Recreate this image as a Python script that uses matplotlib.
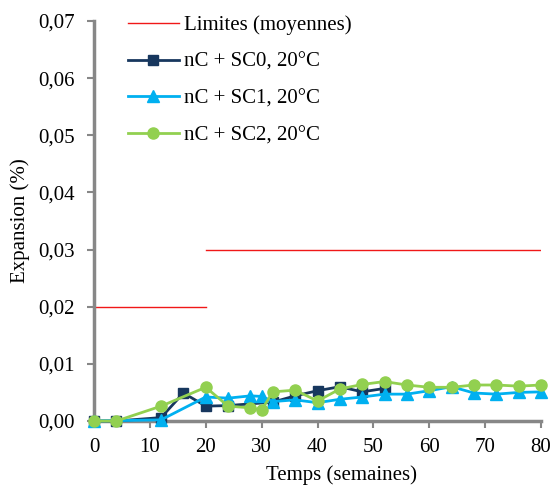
import matplotlib
matplotlib.use("Agg")
import matplotlib.pyplot as plt
from matplotlib.ticker import FuncFormatter

plt.rcParams['font.family'] = ['Liberation Serif', 'DejaVu Serif']

# Data
lim_x1 = [0, 20]
lim_y1 = [0.02, 0.02]
lim_x2 = [20, 80]
lim_y2 = [0.03, 0.03]

sc0_x = [0, 4, 12, 16, 20, 24, 32, 36, 40, 44, 48, 52]
sc0_y = [0.0, 0.0, 0.0006, 0.0049, 0.0026, 0.0027, 0.0033, 0.0044, 0.0053, 0.0060, 0.0051, 0.0057]

sc1_x = [0, 12, 20, 24, 28, 30, 32, 36, 40, 44, 48, 52, 56, 60, 64, 68, 72, 76, 80]
sc1_y = [0.0, 0.0002, 0.0042, 0.0040, 0.0044, 0.0043, 0.0034, 0.0037, 0.0032, 0.0038, 0.0042,
         0.0047, 0.0047, 0.0053, 0.0060, 0.0049, 0.0047, 0.0050, 0.0051]

sc2_x = [0, 4, 12, 20, 24, 28, 30, 32, 36, 40, 44, 48, 52, 56, 60, 64, 68, 72, 76, 80]
sc2_y = [0.0, 0.0, 0.0026, 0.0059, 0.0026, 0.0023, 0.0019, 0.0051, 0.0054, 0.0035, 0.0056,
         0.0064, 0.0069, 0.0063, 0.0059, 0.0059, 0.0063, 0.0063, 0.0061, 0.0063]

labels = ['Limites (moyennes)', 'nC + SC0, 20°C', 'nC + SC1, 20°C', 'nC + SC2, 20°C']
xticks = [0, 10, 20, 30, 40, 50, 60, 70, 80]
yticks = [0.0, 0.01, 0.02, 0.03, 0.04, 0.05, 0.06, 0.07]

FS = 15

fig = plt.figure(figsize=(5.54, 4.86), dpi=100)
ax = fig.add_axes([94/554, 1-421/486, (541-94)/554, (421-21)/486])

red = '#F01818'
navy = '#17375E'
blue = '#00B0F0'
green = '#92D050'

ax.plot(lim_x1, lim_y1, color=red, lw=1.0, label=labels[0])
ax.plot(lim_x2, lim_y2, color=red, lw=1.0)
ax.plot(sc0_x, sc0_y, color=navy, lw=2, marker='s', ms=7.5, label=labels[1], clip_on=False, zorder=3)
ax.plot(sc1_x, sc1_y, color=blue, lw=2, marker='^', ms=8, label=labels[2], clip_on=False, zorder=4)
ax.plot(sc2_x, sc2_y, color=green, lw=2, marker='o', ms=8, label=labels[3], clip_on=False, zorder=5)

ax.set_xlim(0, 80)
ax.set_ylim(0, 0.07)
ax.set_xticks(xticks)
ax.set_yticks(yticks)
ax.yaxis.set_major_formatter(FuncFormatter(lambda v, p: f"{v:.2f}".replace('.', ',')))

for s in ['top', 'right']:
    ax.spines[s].set_visible(False)
for s in ['left', 'bottom']:
    ax.spines[s].set_color('#878787')
    ax.spines[s].set_linewidth(2.5)
ax.tick_params(axis='both', colors='#878787', width=1.5, length=5, labelsize=FS,
               labelcolor='black')
ax.tick_params(axis='y', pad=9)
ax.tick_params(axis='x', pad=7)

ax.set_xlabel('Temps (semaines)', fontsize=FS)
ax.set_ylabel('Expansion (%)', fontsize=FS)
ax.xaxis.set_label_coords((341 - 94) / 447, -(475 - 421) / 400)
ax.yaxis.set_label_coords(-(94 - 20) / 447, 0.5)
ax.xaxis.label.set_va('center')
ax.yaxis.label.set_va('center')

leg = ax.legend(loc='upper left', bbox_to_anchor=((113 - 94) / 447, 1.05), frameon=False, fontsize=FS,
                handlelength=2.45, labelspacing=0.82, handletextpad=0.25, borderpad=0.2)

fig.savefig('out.png', dpi=100)
